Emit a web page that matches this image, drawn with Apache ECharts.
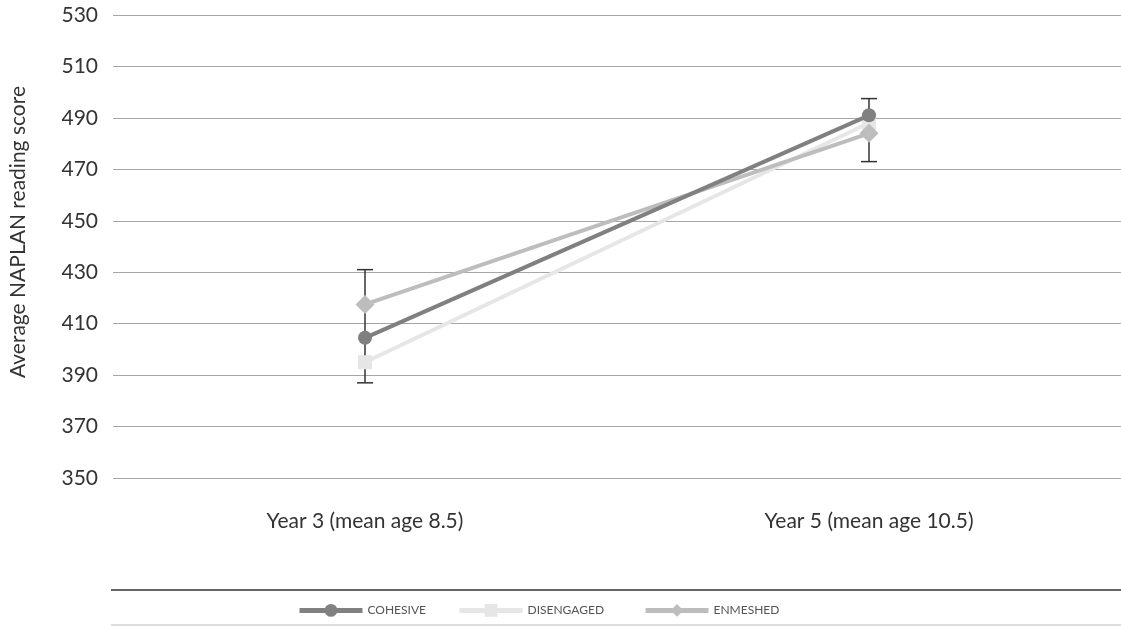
<!DOCTYPE html>
<html><head><meta charset="utf-8">
<script src="https://cdn.jsdelivr.net/npm/echarts@6/dist/echarts.min.js"></script>
<style>html,body{margin:0;padding:0;background:#fff}#c{width:1121px;height:626px}</style>
</head><body><div id="c"></div>
<script>
const categories = ['Year 3 (mean age 8.5)', 'Year 5 (mean age 10.5)'];
const cohesive = [404.5, 491];
const disengaged = [395, 488];
const enmeshed = [417.5, 484];
const errLow = [387, 473];
const errHigh = [431, 497.5];
const yTicks = [350, 370, 390, 410, 430, 450, 470, 490, 510, 530];
const legendNames = ['COHESIVE', 'DISENGAGED', 'ENMESHED'];
const yTitle = 'Average NAPLAN reading score';

const chart = echarts.init(document.getElementById('c'));
const font = 'Lato, "Open Sans", sans-serif';
const legendLefts = [297, 457, 643];
chart.setOption({
  animation: false,
  grid: {left: 113, right: 0, top: 15, bottom: 148},
  xAxis: {
    type: 'category', data: categories, boundaryGap: true,
    axisLine: {show: false}, axisTick: {show: false},
    axisLabel: {color: '#333', fontSize: 21, fontFamily: font, margin: 33}
  },
  yAxis: {
    type: 'value', min: yTicks[0], max: yTicks[yTicks.length - 1], interval: 20,
    axisLabel: {color: '#333', fontSize: 21, fontFamily: font, margin: 15},
    splitLine: {lineStyle: {color: '#a6a6a6', width: 1}},
    axisLine: {show: false}, axisTick: {show: false}
  },
  legend: legendNames.map((n, i) => ({
    top: 604, left: legendLefts[i], itemWidth: 63, itemHeight: 16, padding: 0,
    textStyle: {color: '#555', fontSize: 12, fontFamily: font},
    lineStyle: {width: 5},
    data: [n]
  })),
  graphic: [
    {type: 'line', shape: {x1: 111, y1: 590, x2: 1121, y2: 590}, style: {stroke: '#333', lineWidth: 1.5}},
    {type: 'line', shape: {x1: 111, y1: 625, x2: 1121, y2: 625}, style: {stroke: '#bbb', lineWidth: 1}},
    {type: 'text', x: 18, y: 232, rotation: Math.PI / 2,
     style: {text: yTitle, fill: '#333', font: '21px ' + font, align: 'center', verticalAlign: 'middle'}}
  ],
  series: [
    {
      type: 'custom', name: 'err', z: 1,
      data: categories.map((c, i) => [i, errLow[i], errHigh[i]]),
      renderItem: function (params, api) {
        const lo = api.coord([api.value(0), api.value(1)]);
        const hi = api.coord([api.value(0), api.value(2)]);
        const w = 8;
        const st = {stroke: '#333', lineWidth: 1.5};
        return {type: 'group', children: [
          {type: 'line', shape: {x1: lo[0], y1: lo[1], x2: hi[0], y2: hi[1]}, style: st},
          {type: 'line', shape: {x1: lo[0] - w, y1: lo[1], x2: lo[0] + w, y2: lo[1]}, style: st},
          {type: 'line', shape: {x1: hi[0] - w, y1: hi[1], x2: hi[0] + w, y2: hi[1]}, style: st}
        ]};
      }
    },
    {name: 'DISENGAGED', type: 'line', data: disengaged, symbol: 'rect', symbolSize: 14, z: 2,
     itemStyle: {color: '#e6e6e6'}, lineStyle: {color: '#e6e6e6', width: 4}},
    {name: 'ENMESHED', type: 'line', data: enmeshed, symbol: 'diamond', symbolSize: 19, z: 3,
     itemStyle: {color: '#bdbdbd'}, lineStyle: {color: '#bdbdbd', width: 4}},
    {name: 'COHESIVE', type: 'line', data: cohesive, symbol: 'circle', symbolSize: 14, z: 4,
     itemStyle: {color: '#808080'}, lineStyle: {color: '#808080', width: 4}}
  ]
});
</script></body></html>
